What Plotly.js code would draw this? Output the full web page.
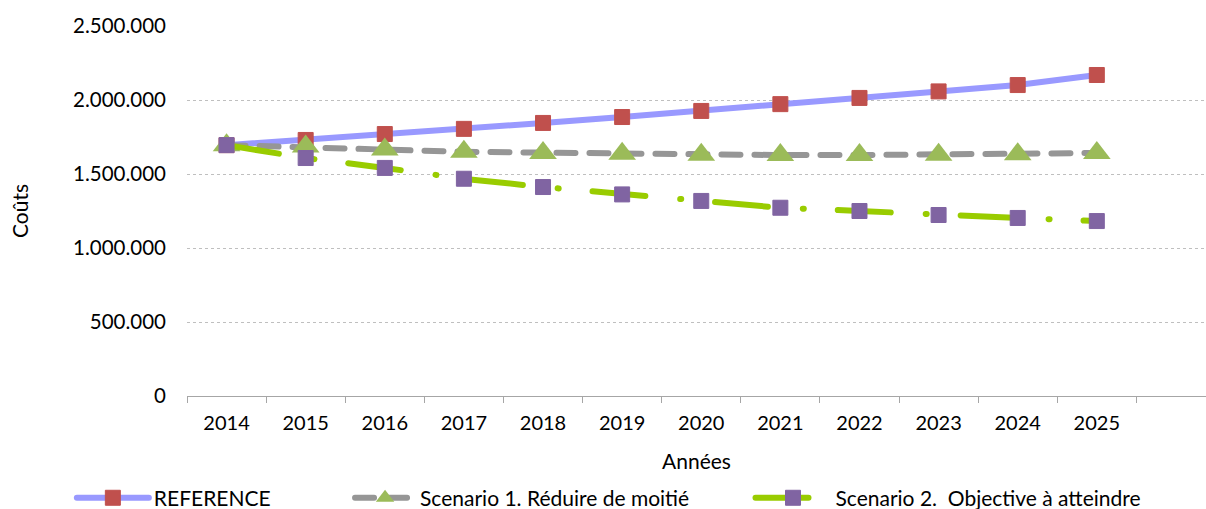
<!DOCTYPE html>
<html><head><meta charset="utf-8">
<script src="https://cdn.plot.ly/plotly-3.0.1.min.js"></script>
<style>
html,body{margin:0;padding:0;background:#fff;}
#chart{width:1206px;height:509px;}
.js-line{stroke-linecap:round !important;}
</style>
</head><body>
<div id="chart"></div>
<script>
const years = [2014, 2015, 2016, 2017, 2018, 2019, 2020, 2021, 2022, 2023, 2024, 2025];
const yearLabels = ["2014","2015","2016","2017","2018","2019","2020","2021","2022","2023","2024","2025"];
const reference = [1695000, 1730000, 1770000, 1805000, 1845000, 1885000, 1926000, 1972000, 2014000, 2058000, 2101000, 2169000];
const scenario1 = [1695000, 1685000, 1665000, 1650000, 1642000, 1636000, 1630000, 1628000, 1628000, 1630000, 1633000, 1642000];
const scenario2 = [1695000, 1608000, 1541000, 1468000, 1412000, 1362000, 1318000, 1272000, 1250000, 1223000, 1203000, 1182000];
const seriesNames = ["REFERENCE", "Scenario 1. Réduire de moitié", "Scenario 2.  Objective à atteindre"];
const yTicks = [0, 500000, 1000000, 1500000, 2000000, 2500000];

const FONT = "Lato, 'DejaVu Sans', sans-serif";
const traces = [
  {x: years, y: reference, name: seriesNames[0], type: 'scatter', mode: 'lines+markers',
   line: {color: '#9999FF', width: 6}, marker: {symbol: 'square', size: 15, color: '#C0504D', line:{color:'#C0504D', width:1}},
   legend: 'legend'},
  {x: years, y: scenario1, name: seriesNames[1], type: 'scatter', mode: 'lines+markers',
   line: {color: '#969696', width: 6, dash: '19px,14px'}, marker: {symbol: 'triangle-up', size: 24, color: '#9BBB59'},
   legend: 'legend2'},
  {x: years, y: scenario2, name: seriesNames[2], type: 'scatter', mode: 'lines+markers',
   line: {color: '#99CC00', width: 6, dash: '53px,35px,1px,34px'}, marker: {symbol: 'square', size: 15, color: '#8064A2', line:{color:'#8064A2', width:1}},
   legend: 'legend3'}
];
const legendBase = {orientation: 'h', yref: 'paper', y: -0.276, yanchor: 'middle', xanchor: 'left',
  font: {family: FONT, size: 21, color: '#000'}, bgcolor: 'rgba(0,0,0,0)', borderwidth: 0};
const layout = {
  width: 1206, height: 509,
  margin: {l: 187, r: 0, t: 26, b: 113, autoexpand: false},
  paper_bgcolor: '#fff', plot_bgcolor: '#fff',
  separators: ',.',
  font: {family: FONT, size: 21, color: '#000'},
  showlegend: true,
  xaxis: {
    range: [2013.5, 2026.38], tickmode: 'array', tickvals: years, ticktext: yearLabels,
    ticks: '', showgrid: false, zeroline: false, showline: true, linecolor: '#A6A6A6', linewidth: 1,
    ticklabelstandoff: 9, tickfont: {size: 20},
    minor: {ticks: 'outside', tick0: 2013.5, dtick: 1, ticklen: 6, tickcolor: '#A6A6A6', showgrid: false},
    title: {text: 'Années', font: {family: FONT, size: 21}, standoff: 21},
    fixedrange: true
  },
  yaxis: {
    range: [0, 2500000], tickmode: 'array', tickvals: yTicks, tickformat: ',d',
    ticks: '', showgrid: true, gridcolor: '#BFBFBF', griddash: 'dot', gridwidth: 1,
    zeroline: false, showline: false, ticklabelstandoff: 20, tickfont: {size: 20.5},
    title: {text: 'Coûts', font: {family: FONT, size: 21}, standoff: 38},
    fixedrange: true
  },
  legend: Object.assign({}, legendBase, {x: -0.113, itemwidth: 72}),
  legend2: Object.assign({}, legendBase, {x: 0.16, itemwidth: 60}),
  legend3: Object.assign({}, legendBase, {x: 0.553, itemwidth: 75})
};
Plotly.newPlot('chart', traces, layout, {displayModeBar: false, staticPlot: true});
</script>
</body></html>
